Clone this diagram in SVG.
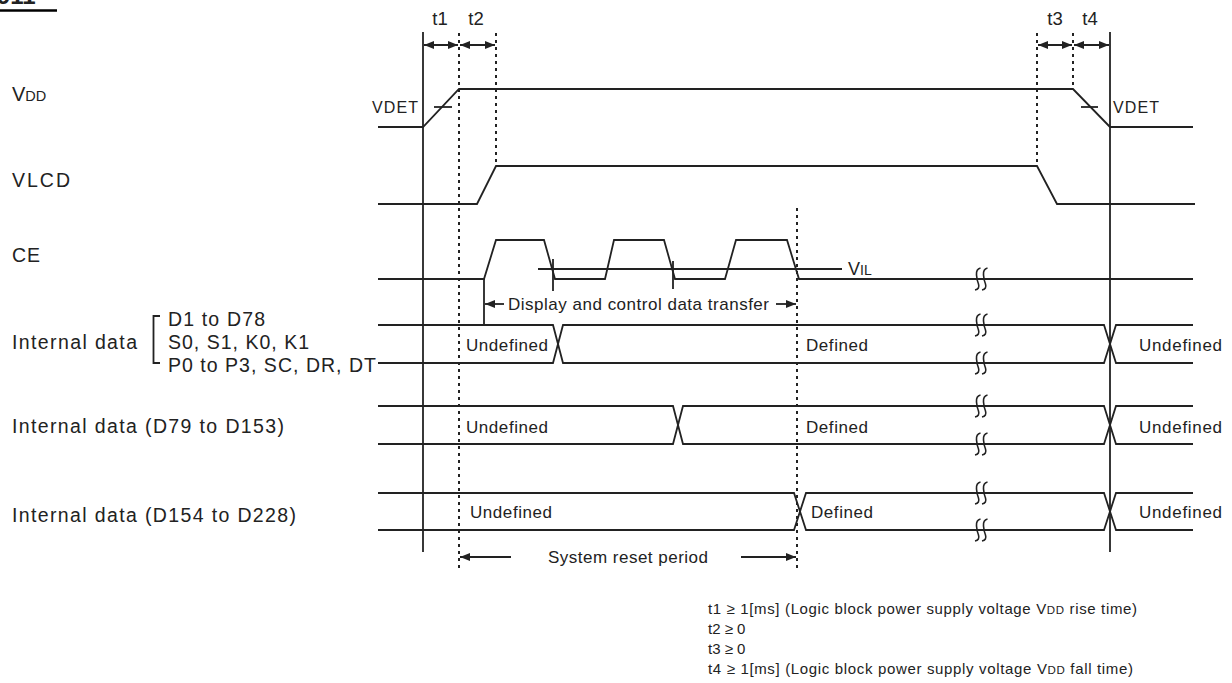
<svg xmlns="http://www.w3.org/2000/svg" width="1232" height="683" viewBox="0 0 1232 683">
<style>
text{font-family:"Liberation Sans",Arial,sans-serif;fill:#222}
.lab{font-size:19.5px}
.dt{font-size:17px}
.tl{font-size:18.5px}
.sm{font-size:16px}
.fn{font-size:15px}
.w{fill:none;stroke:#222;stroke-width:1.8}
.dot{fill:none;stroke:#222;stroke-width:2;stroke-dasharray:3 4}
.ar{fill:none;stroke:#222;stroke-width:1.8}
.brk{fill:none;stroke:#222;stroke-width:1.6}
</style>
<defs>
<marker id="ah" markerUnits="userSpaceOnUse" markerWidth="10" markerHeight="8" refX="10" refY="4" orient="auto-start-reverse">
<path d="M0,0 L10,4 L0,8 z" fill="#222"/>
</marker>
<path id="bk" d="M-0.5,-11 Q-5,-10 -4.5,-4 Q-4,2 -2.5,5 Q-1,10 -6,11 M6.5,-11 Q2,-10 2.5,-4 Q3,2 4.5,5 Q6,10 1,11"/>
</defs>
<rect width="1232" height="683" fill="#fff"/>

<g id="title">
<text x="-3" y="4" style="font-size:24px;font-weight:bold">911</text>
<line x1="0" y1="10.5" x2="57" y2="10.5" stroke="#000" stroke-width="2.5"/>
</g>

<g id="labels">
<text class="lab" x="12" y="101" style="font-size:20px">V<tspan style="font-size:14.5px">DD</tspan></text>
<text class="lab" x="12" y="187" textLength="58" lengthAdjust="spacing">VLCD</text>
<text class="lab" x="12" y="262" textLength="28" lengthAdjust="spacing">CE</text>
<text class="lab" x="12" y="349" textLength="125" lengthAdjust="spacing">Internal data</text>
<path class="w" d="M160,316 H153.5 V363 H160"/>
<text class="lab" x="168" y="326" textLength="97" lengthAdjust="spacing">D1 to D78</text>
<text class="lab" x="168" y="349" textLength="141" lengthAdjust="spacing">S0, S1, K0, K1</text>
<text class="lab" x="168" y="372" textLength="208" lengthAdjust="spacing">P0 to P3, SC, DR, DT</text>
<text class="lab" x="12" y="433" textLength="272" lengthAdjust="spacing">Internal data (D79 to D153)</text>
<text class="lab" x="12" y="522" textLength="284" lengthAdjust="spacing">Internal data (D154 to D228)</text>
</g>

<g id="timing-markers">
<line class="w" x1="423" y1="32" x2="423" y2="552"/>
<line class="w" x1="1110" y1="32" x2="1110" y2="552"/>
<line class="dot" x1="459" y1="33" x2="459" y2="568"/>
<line class="dot" x1="496" y1="33" x2="496" y2="166"/>
<line class="dot" x1="797" y1="208" x2="797" y2="568"/>
<line class="dot" x1="1037" y1="33" x2="1037" y2="166"/>
<line class="dot" x1="1073" y1="33" x2="1073" y2="89"/>
<text class="tl" x="440" y="25" text-anchor="middle">t1</text>
<text class="tl" x="476" y="25" text-anchor="middle">t2</text>
<text class="tl" x="1055" y="25" text-anchor="middle">t3</text>
<text class="tl" x="1090" y="25" text-anchor="middle">t4</text>
</g>

<g id="connectors">
<line class="ar" x1="424" y1="45" x2="458" y2="45" marker-start="url(#ah)" marker-end="url(#ah)"/>
<line class="ar" x1="460" y1="45" x2="495" y2="45" marker-start="url(#ah)" marker-end="url(#ah)"/>
<line class="ar" x1="1038" y1="45" x2="1072" y2="45" marker-start="url(#ah)" marker-end="url(#ah)"/>
<line class="ar" x1="1074" y1="45" x2="1109" y2="45" marker-start="url(#ah)" marker-end="url(#ah)"/>
<line class="ar" x1="504" y1="304" x2="485" y2="304" marker-end="url(#ah)"/>
<line class="ar" x1="776" y1="304" x2="796" y2="304" marker-end="url(#ah)"/>
<line class="ar" x1="511" y1="557" x2="460" y2="557" marker-end="url(#ah)"/>
<line class="ar" x1="741" y1="557" x2="796" y2="557" marker-end="url(#ah)"/>
</g>

<g id="vdd">
<path class="w" d="M378,127 H423 L459,89 H1073 L1110,127 H1193"/>
<line class="w" x1="434" y1="107" x2="452" y2="107"/>
<line class="w" x1="1081" y1="107" x2="1098" y2="107"/>
<text class="sm" x="372" y="113" textLength="46" lengthAdjust="spacing">VDET</text>
<text class="sm" x="1113" y="113" textLength="46" lengthAdjust="spacing">VDET</text>
</g>

<g id="vlcd">
<path class="w" d="M378,204 H477 L496,166 H1037 L1057,204 H1195"/>
</g>

<g id="ce">
<path class="w" d="M378,279 H484 L496,240 H544 L555,279 H605 L614,240 H664 L675,279 H725 L736,240 H787 L799,279 H1193"/>
<line class="w" x1="538" y1="269" x2="842" y2="269"/>
<line class="w" x1="553" y1="259" x2="553" y2="291"/>
<line class="w" x1="673" y1="261" x2="673" y2="289"/>
<line class="w" x1="484" y1="279" x2="484" y2="325"/>
<text class="lab" x="848" y="275" style="font-size:18px">V<tspan style="font-size:14px">IL</tspan></text>
<text class="dt" x="508" y="310" textLength="261" lengthAdjust="spacing">Display and control data transfer</text>
</g>

<g id="data1">
<path class="w" d="M378,325 H553 L563,363 H1104 L1116,325 H1193"/>
<path class="w" d="M378,363 H553 L563,325 H1104 L1116,363 H1193"/>
<text class="dt" x="466" y="351" textLength="82" lengthAdjust="spacing">Undefined</text>
<text class="dt" x="806" y="351" textLength="62" lengthAdjust="spacing">Defined</text>
<text class="dt" x="1139" y="351" textLength="83" lengthAdjust="spacing">Undefined</text>
</g>

<g id="data2">
<path class="w" d="M378,406 H673 L683,444 H1104 L1116,406 H1193"/>
<path class="w" d="M378,444 H673 L683,406 H1104 L1116,444 H1193"/>
<text class="dt" x="466" y="433" textLength="82" lengthAdjust="spacing">Undefined</text>
<text class="dt" x="806" y="433" textLength="62" lengthAdjust="spacing">Defined</text>
<text class="dt" x="1139" y="433" textLength="83" lengthAdjust="spacing">Undefined</text>
</g>

<g id="data3">
<path class="w" d="M378,493 H794 L806,530 H1104 L1116,493 H1193"/>
<path class="w" d="M378,530 H794 L806,493 H1104 L1116,530 H1193"/>
<text class="dt" x="470" y="518" textLength="82" lengthAdjust="spacing">Undefined</text>
<text class="dt" x="811" y="518" textLength="62" lengthAdjust="spacing">Defined</text>
<text class="dt" x="1139" y="518" textLength="83" lengthAdjust="spacing">Undefined</text>
<text class="dt" x="548" y="563" textLength="160" lengthAdjust="spacing">System reset period</text>
</g>

<g id="breaks">
<use href="#bk" class="brk" x="981" y="279"/>
<use href="#bk" class="brk" x="981" y="325"/>
<use href="#bk" class="brk" x="981" y="363"/>
<use href="#bk" class="brk" x="981" y="406"/>
<use href="#bk" class="brk" x="981" y="444"/>
<use href="#bk" class="brk" x="981" y="493"/>
<use href="#bk" class="brk" x="981" y="530"/>
</g>

<g id="notes">
<text class="fn" x="708" y="614" textLength="429" lengthAdjust="spacing">t1 ≥ 1[ms] (Logic block power supply voltage V<tspan style="font-size:11.5px">DD</tspan> rise time)</text>
<text class="fn" x="708" y="634">t2 ≥ 0</text>
<text class="fn" x="708" y="654">t3 ≥ 0</text>
<text class="fn" x="708" y="674" textLength="425" lengthAdjust="spacing">t4 ≥ 1[ms] (Logic block power supply voltage V<tspan style="font-size:11.5px">DD</tspan> fall time)</text>
</g>
</svg>
